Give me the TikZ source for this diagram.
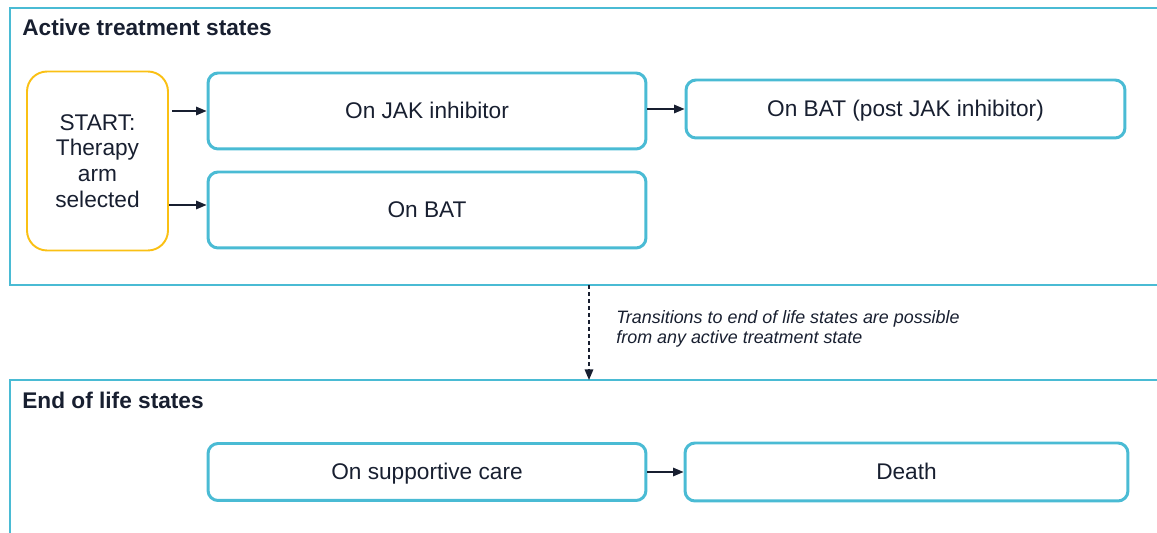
\documentclass[tikz,border=0pt]{standalone}
\usepackage{fontspec}
\setmainfont{Liberation Sans}
\usetikzlibrary{arrows.meta}
\definecolor{stateblue}{RGB}{74,187,212}
\definecolor{startgold}{RGB}{250,192,20}
\definecolor{inkblue}{RGB}{24,31,48}
\tikzset{
	groupbox/.style={draw=stateblue, line width=1.2pt},
	grouptitle/.style={anchor=west, inner sep=0pt, text=inkblue, font=\fontsize{12.9}{14.7}\selectfont\bfseries},
	statebox/.style={draw=stateblue, line width=1.7pt, rounded corners=0.2cm, text=inkblue, font=\fontsize{12.9}{14.7}\selectfont, text height=0.88em, text depth=0pt, minimum width=8.76cm},
	startbox/.style={draw=startgold, line width=1.1pt, rounded corners=0.4cm, text=inkblue, align=center, font=\fontsize{12.9}{14.7}\selectfont, minimum width=2.82cm, minimum height=3.58cm},
	flow/.style={draw=inkblue, line width=0.8pt, -{Triangle[length=0.21cm,width=0.17cm]}},
	notetext/.style={anchor=west, inner sep=0pt, align=left, text=inkblue, font=\fontsize{10.2}{11.4}\selectfont\itshape}
}

\begin{document}
\begin{tikzpicture}[x=0.02cm, y=-0.02cm]
			%%%%% START %%%%%
			\useasboundingbox (0, 0) rectangle (1157, 533);
			\clip (0, 0) rectangle (1157, 533);
			
			\draw[groupbox] (10, 8) rectangle (1180, 285);
			\draw[groupbox] (10, 380) rectangle (1180, 560);
			\node[grouptitle] (activetitle) at (22, 27) {Active treatment states};
			\node[grouptitle] (endtitle) at (22, 400) {End of life states};
			
			\node[startbox] (start) at (97.5, 161) {START:\\Therapy\\arm\\selected};
			
			\node[statebox, minimum height=1.52cm] (jak) at (427, 111) {On JAK inhibitor};
			\node[statebox, minimum height=1.52cm] (bat) at (427, 210) {On BAT};
			\node[statebox, minimum height=1.16cm, minimum width=8.78cm] (postjak) at (905.5, 109) {On BAT (post JAK inhibitor)};
			
			\node[statebox, minimum height=1.14cm] (care) at (427, 472) {On supportive care};
			\node[statebox, minimum height=1.16cm, minimum width=8.86cm] (death) at (906.5, 472) {Death};
			
			\draw[flow, shorten <=2pt] (start.east |- jak.west) -- (jak.west);
			\draw[flow] (start.east |- 0, 205) -- (bat.west |- 0, 205);
			\draw[flow] (jak.east |- postjak.west) -- (postjak.west);
			\draw[flow] (care.east) -- (death.west);
			
			\coordinate (activebottom) at (589, 285);
			\coordinate (endtop) at (589, 380);
			\draw[flow, dash pattern=on 2.3pt off 1.7pt] (activebottom) -- (endtop);
			\node[notetext] (note) at (616, 329) {Transitions to end of life states are possible\\from any active treatment state};
			
			%%%%% END %%%%%
\end{tikzpicture}
\end{document}
